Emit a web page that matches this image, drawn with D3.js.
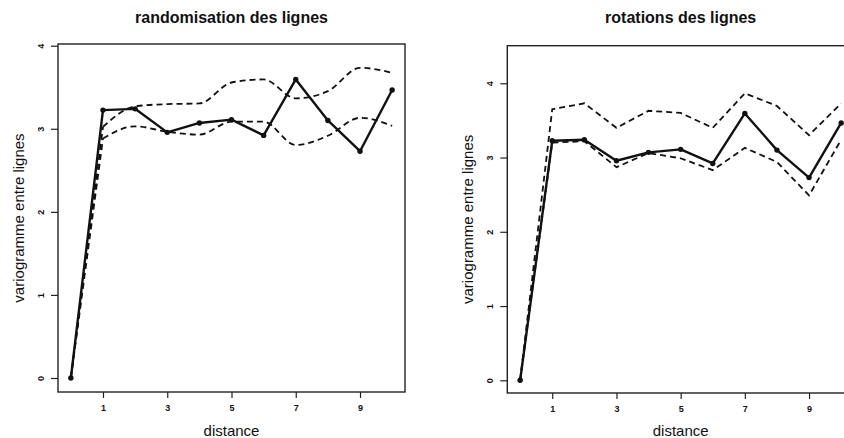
<!DOCTYPE html>
<html>
<head>
<meta charset="utf-8">
<script src="https://cdn.jsdelivr.net/npm/d3@7"></script>
<style>
  html, body { margin: 0; padding: 0; background: #fff; overflow: hidden; }
  svg { display: block; font-family: "Liberation Sans", Arial, Helvetica, sans-serif; }
</style>
</head>
<body>
<svg id="chart" width="844" height="438"></svg>
<script>
// ---- data ----
const distances = [0, 1, 2, 3, 4, 5, 6, 7, 8, 9, 10];
const observed  = [0, 3.225, 3.24, 2.957, 3.07, 3.11, 2.92, 3.594, 3.10, 2.73, 3.466];
const randUpper = [0, 3.024, 3.27, 3.297, 3.305, 3.557, 3.594, 3.366, 3.453, 3.734, 3.674];
const randLower = [0, 2.884, 3.03, 2.964, 2.93, 3.085, 3.085, 2.804, 2.916, 3.132, 3.036];
const rotUpper  = [0, 3.65, 3.73, 3.40, 3.63, 3.60, 3.40, 3.865, 3.694, 3.30, 3.73];
const rotLower  = [0, 3.20, 3.22, 2.87, 3.06, 2.99, 2.83, 3.13, 2.94, 2.49, 3.24];
const xTicks = [1, 3, 5, 7, 9];
const yTicks = [0, 1, 2, 3, 4];
const titles = ["randomisation des lignes", "rotations des lignes"];
const xLabel = "distance";
const yLabel = "variogramme entre lignes";

const svg = d3.select("#chart");

const panels = [
  { title: titles[0], left: 58, right: 405, top: 44, bottom: 392,
    yDomain: [-0.1685, 4.0205], upper: randUpper, lower: randLower, smooth: true },
  { title: titles[1], left: 507.3, right: 854, top: 45.7, bottom: 393,
    yDomain: [-0.171, 4.506], upper: rotUpper, lower: rotLower, smooth: false }
];

panels.forEach(p => {
  const g = svg.append("g");
  const x = d3.scaleLinear().domain([-0.4, 10.4]).range([p.left, p.right]);
  const y = d3.scaleLinear().domain(p.yDomain).range([p.bottom, p.top]);
  const cx = (p.left + p.right) / 2;
  const cy = (p.top + p.bottom) / 2;

  // title
  g.append("text")
    .attr("x", cx).attr("y", 23)
    .attr("text-anchor", "middle")
    .attr("font-size", 16).attr("font-weight", "bold")
    .attr("fill", "#111")
    .text(p.title);

  // axes
  const xAxis = g.append("g")
    .attr("transform", `translate(0,${p.bottom})`)
    .call(d3.axisBottom(x).tickValues(xTicks).tickSize(6).tickPadding(7).tickFormat(d3.format("d")));
  xAxis.select(".domain").remove();
  xAxis.selectAll("line").attr("stroke", "#222").attr("stroke-width", 1.2);
  xAxis.selectAll("text").attr("font-size", 9).attr("font-weight", "bold")
    .attr("fill", "#111").attr("font-family", "Liberation Sans, Arial, sans-serif");

  const yAxis = g.append("g")
    .attr("transform", `translate(${p.left},0)`)
    .call(d3.axisLeft(y).tickValues(yTicks).tickSize(7).tickFormat(d3.format("d")));
  yAxis.select(".domain").remove();
  yAxis.selectAll("line").attr("stroke", "#222").attr("stroke-width", 1.2);
  yAxis.selectAll("text")
    .attr("x", null).attr("dy", null)
    .attr("transform", "translate(-17,0) rotate(-90)")
    .attr("text-anchor", "middle")
    .attr("dominant-baseline", "central")
    .attr("font-size", 9).attr("font-weight", "bold")
    .attr("fill", "#111").attr("font-family", "Liberation Sans, Arial, sans-serif");

  // axis labels
  g.append("text")
    .attr("x", cx).attr("y", 436)
    .attr("text-anchor", "middle")
    .attr("font-size", 15).attr("fill", "#111")
    .text(xLabel);
  g.append("text")
    .attr("transform", `translate(${p.left - 40},${cy}) rotate(-90)`)
    .attr("text-anchor", "middle")
    .attr("dominant-baseline", "central")
    .attr("font-size", 15).attr("fill", "#111")
    .text(yLabel);

  // envelope lines (dashed)
  const straight = d3.line().x((d, i) => x(d[0])).y(d => y(d[1]));
  const curved = d3.line().x(d => x(d[0])).y(d => y(d[1])).curve(d3.curveMonotoneX);
  [p.upper, p.lower].forEach(series => {
    const pts = distances.map((d, i) => [d, series[i]]);
    if (p.smooth) {
      g.append("path").attr("d", straight(pts.slice(0, 2)))
        .attr("fill", "none").attr("stroke", "#111").attr("stroke-width", 1.8)
        .attr("stroke-dasharray", "6,4");
      g.append("path").attr("d", curved(pts.slice(1)))
        .attr("fill", "none").attr("stroke", "#111").attr("stroke-width", 1.8)
        .attr("stroke-dasharray", "6,4");
    } else {
      g.append("path").attr("d", straight(pts))
        .attr("fill", "none").attr("stroke", "#111").attr("stroke-width", 1.8)
        .attr("stroke-dasharray", "6,4");
    }
  });

  // observed line
  const obsPts = distances.map((d, i) => [d, observed[i]]);
  g.append("path").attr("d", straight(obsPts))
    .attr("fill", "none").attr("stroke", "#111").attr("stroke-width", 2.4)
    .attr("stroke-linejoin", "round");
  g.selectAll("circle.pt").data(obsPts).enter().append("circle")
    .attr("class", "pt")
    .attr("cx", d => x(d[0])).attr("cy", d => y(d[1]))
    .attr("r", 2.7).attr("fill", "#111");

  // box
  g.append("rect")
    .attr("x", p.left).attr("y", p.top)
    .attr("width", p.right - p.left).attr("height", p.bottom - p.top)
    .attr("fill", "none").attr("stroke", "#222").attr("stroke-width", 1.4);
});
</script>
</body>
</html>
